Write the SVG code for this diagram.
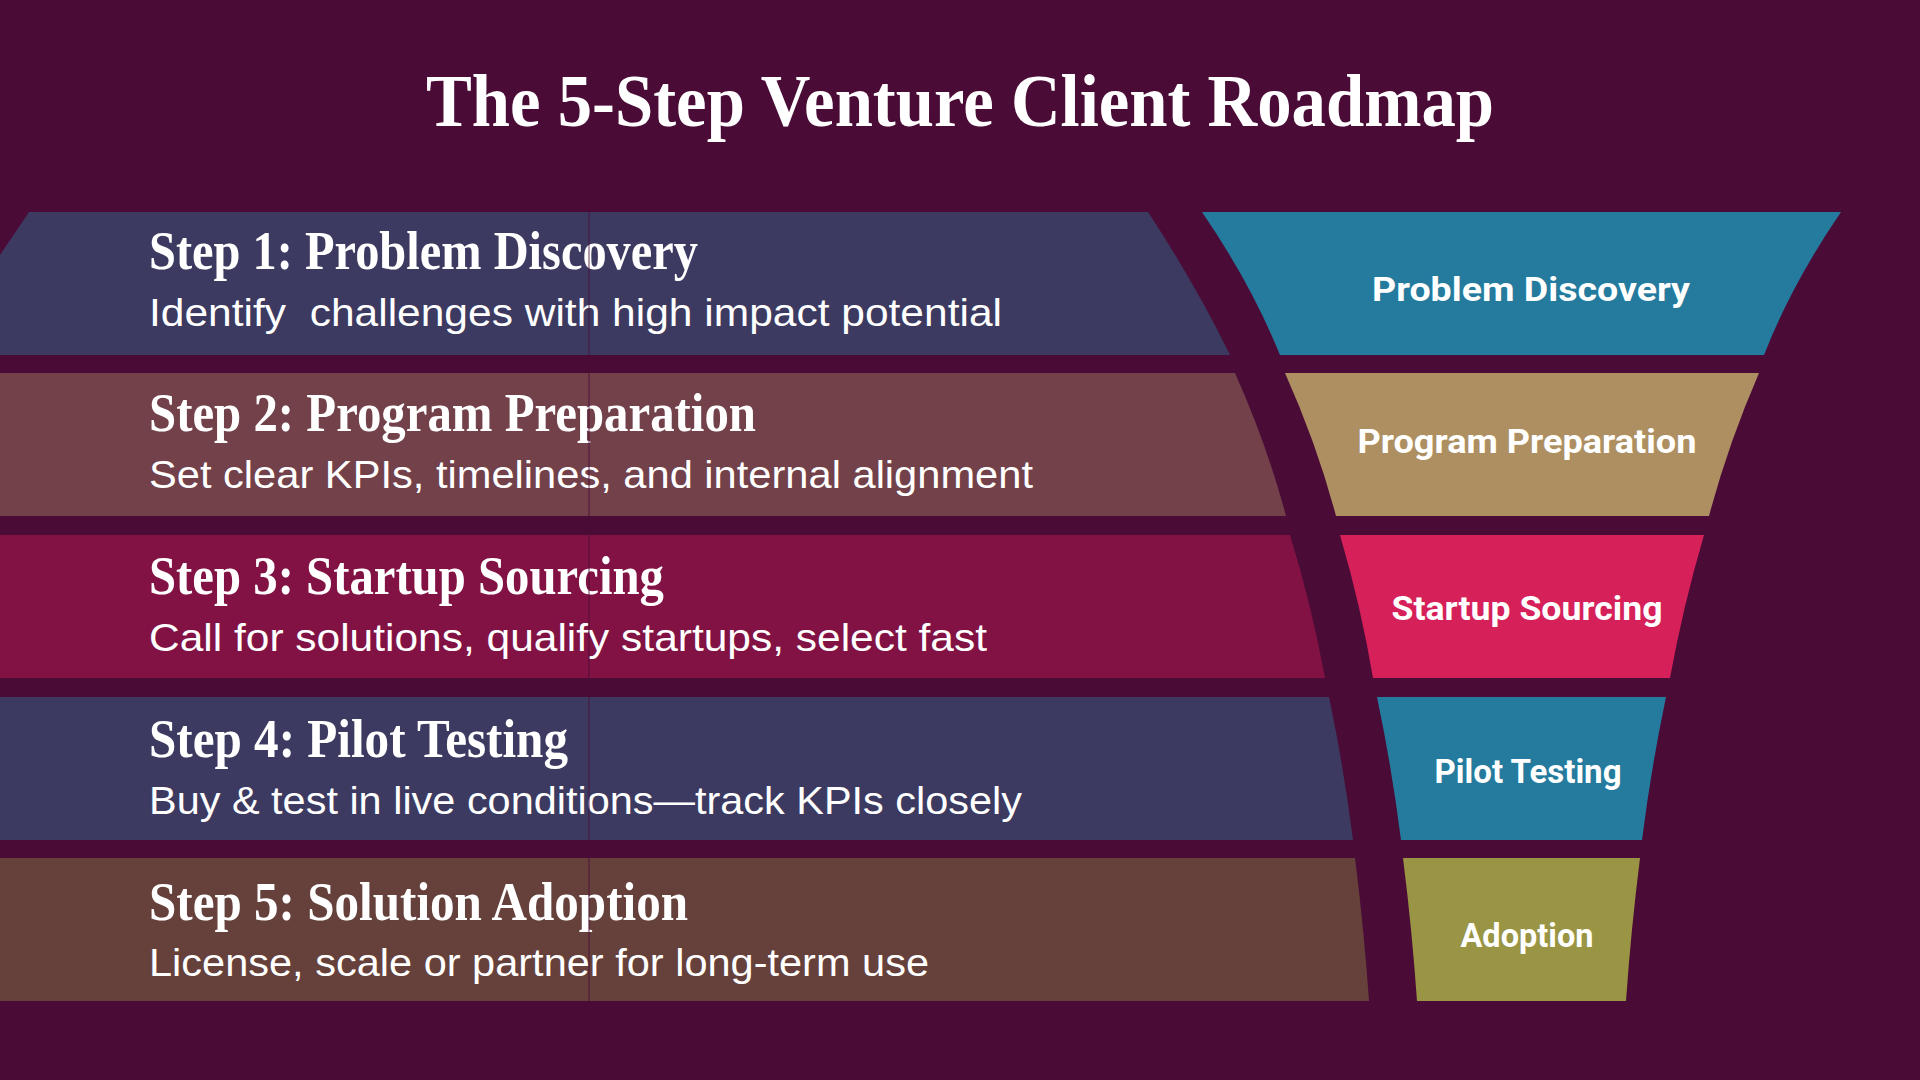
<svg xmlns="http://www.w3.org/2000/svg" width="1920" height="1080" viewBox="0 0 1920 1080">
<style>
.bg{fill:#4a0c37}
.title{font-family:"Liberation Serif","Times New Roman",serif;font-weight:bold;font-size:75px;fill:#ffffff}
.head{font-family:"Liberation Serif","Times New Roman",serif;font-weight:bold;font-size:54px;fill:#ffffff}
.desc{font-family:"Liberation Sans",Arial,sans-serif;font-size:39px;fill:#ffffff;white-space:pre}
.flabel{font-family:Roboto,"Liberation Sans",sans-serif;font-weight:bold;font-size:34px;fill:#ffffff;text-anchor:middle}
.guide{stroke:#4a0c37;stroke-width:1.2;opacity:0.7}
</style>
<rect class="bg" x="0" y="0" width="1920" height="1080"/>
<text class="title" x="960" y="126" text-anchor="middle" textLength="1068" lengthAdjust="spacingAndGlyphs">The 5-Step Venture Client Roadmap</text>

<g id="step1">
<path d="M29,212 L1148,212 Q1195,283.5 1230,355 L0,355 L0,255 Z" fill="#3c3a60"/>
<text class="head" x="149" y="269" textLength="549" lengthAdjust="spacingAndGlyphs">Step 1: Problem Discovery</text>
<text class="desc" x="149" y="326" textLength="853" lengthAdjust="spacingAndGlyphs" xml:space="preserve">Identify  challenges with high impact potential</text>
</g>
<g id="step2">
<path d="M0,373 L1235,373 Q1267,444.5 1286,516 L0,516 Z" fill="#72414a"/>
<text class="head" x="149" y="431" textLength="607" lengthAdjust="spacingAndGlyphs">Step 2: Program Preparation</text>
<text class="desc" x="149" y="488" textLength="884" lengthAdjust="spacingAndGlyphs">Set clear KPIs, timelines, and internal alignment</text>
</g>
<g id="step3">
<path d="M0,535 L1290,535 Q1312,606.5 1325,678 L0,678 Z" fill="#821244"/>
<text class="head" x="149" y="594" textLength="515" lengthAdjust="spacingAndGlyphs">Step 3: Startup Sourcing</text>
<text class="desc" x="149" y="651" textLength="838" lengthAdjust="spacingAndGlyphs">Call for solutions, qualify startups, select fast</text>
</g>
<g id="step4">
<path d="M0,697 L1329,697 Q1344,768.5 1353,840 L0,840 Z" fill="#3c3a60"/>
<text class="head" x="149" y="757" textLength="419" lengthAdjust="spacingAndGlyphs">Step 4: Pilot Testing</text>
<text class="desc" x="149" y="814" textLength="873" lengthAdjust="spacingAndGlyphs">Buy &amp; test in live conditions—track KPIs closely</text>
</g>
<g id="step5">
<path d="M0,858 L1355,858 Q1364,929.5 1369,1001 L0,1001 Z" fill="#66413c"/>
<text class="head" x="149" y="920" textLength="539" lengthAdjust="spacingAndGlyphs">Step 5: Solution Adoption</text>
<text class="desc" x="149" y="976" textLength="780" lengthAdjust="spacingAndGlyphs">License, scale or partner for long-term use</text>
</g>

<g id="guide-line">
<line class="guide" x1="589" y1="212" x2="589" y2="355"/>
<line class="guide" x1="589" y1="373" x2="589" y2="516"/>
<line class="guide" x1="589" y1="535" x2="589" y2="678"/>
<line class="guide" x1="589" y1="697" x2="589" y2="840"/>
<line class="guide" x1="589" y1="858" x2="589" y2="1001"/>
</g>

<g id="funnel1">
<path d="M1202,212 L1841,212 Q1792,283.5 1764,355 L1280,355 Q1251,283.5 1202,212 Z" fill="#247b9e"/>
<text class="flabel" x="1531" y="301" textLength="318" lengthAdjust="spacingAndGlyphs">Problem Discovery</text>
</g>
<g id="funnel2">
<path d="M1285,373 L1759,373 Q1728,444.5 1709,516 L1336,516 Q1317,444.5 1285,373 Z" fill="#ae8f62"/>
<text class="flabel" x="1527" y="453" textLength="339" lengthAdjust="spacingAndGlyphs">Program Preparation</text>
</g>
<g id="funnel3">
<path d="M1340,535 L1704,535 Q1683,606.5 1670,678 L1373,678 Q1361,606.5 1340,535 Z" fill="#d6205a"/>
<text class="flabel" x="1527" y="620" textLength="271" lengthAdjust="spacingAndGlyphs">Startup Sourcing</text>
</g>
<g id="funnel4">
<path d="M1377,697 L1666,697 Q1651,768.5 1642,840 L1401,840 Q1392,768.5 1377,697 Z" fill="#247b9e"/>
<text class="flabel" x="1528" y="783" textLength="187" lengthAdjust="spacingAndGlyphs">Pilot Testing</text>
</g>
<g id="funnel5">
<path d="M1403,858 L1640,858 Q1631,929.5 1626,1001 L1417,1001 Q1412,929.5 1403,858 Z" fill="#9a9544"/>
<text class="flabel" x="1527" y="947" textLength="133" lengthAdjust="spacingAndGlyphs">Adoption</text>
</g>
</svg>
